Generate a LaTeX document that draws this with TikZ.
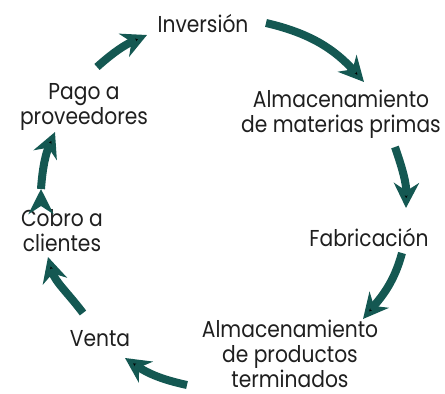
\documentclass[tikz,border=0pt]{standalone}
\usepackage{fontspec}
\setmainfont[FakeStretch=0.88]{Poppins}
\usetikzlibrary{arrows.meta}
\definecolor{flowcol}{RGB}{20,88,82}

\begin{document}
\begin{tikzpicture}[x=1pt, y=1pt,
  txt/.style={inner sep=0pt, align=center, text=black!88,
    font=\fontsize{23}{25}\selectfont},
  flow/.style={draw=flowcol, line width=8pt,
    -{Stealth[length=25pt, width=25pt, inset=8pt]}}]

\useasboundingbox (0,0) rectangle (445,-394);

\node[txt] (inv)   at (203,-24)  {Inversión};
\node[txt] (amp)   at (341,-114) {Almacenamiento\\de materias primas};
\node[txt] (fab)   at (369,-238) {Fabricación};
\node[txt] (apt)   at (290,-354) {Almacenamiento\\de productos\\terminados};
\node[txt] (venta) at (100,-339) {Venta};
\node[txt] (cobro) at (62,-231)  {Cobro a\\clientes};
\node[txt] (pago)  at (84,-107)  {Pago a\\proveedores};

% cycle, clockwise
\path[flow]
  ([shift={(13,40)}]pago.center)    edge[out=42, in=204]  ([shift={(-56,-11)}]inv.center)
  ([shift={(63,1)}]inv.center)      edge[out=-13, in=132] ([shift={(23,32)}]amp.center)
  ([shift={(54,-33)}]amp.center)    edge[out=-71, in=89]  ([shift={(37,30)}]fab.center)
  ([shift={(33,-15)}]fab.center)    edge[out=-105, in=50] ([shift={(73,35)}]apt.center)
  ([shift={(-103,-31)}]apt.center)  edge[out=168, in=-34] ([shift={(25,-19)}]venta.center)
  ([shift={(-17,26)}]venta.center)  edge[out=127, in=-74] ([shift={(-14,-26)}]cobro.center)
  ([shift={(-21,42)}]cobro.center)  edge[out=86, in=247]  ([shift={(-29,-25)}]pago.center)
  ;

\end{tikzpicture}
\end{document}
